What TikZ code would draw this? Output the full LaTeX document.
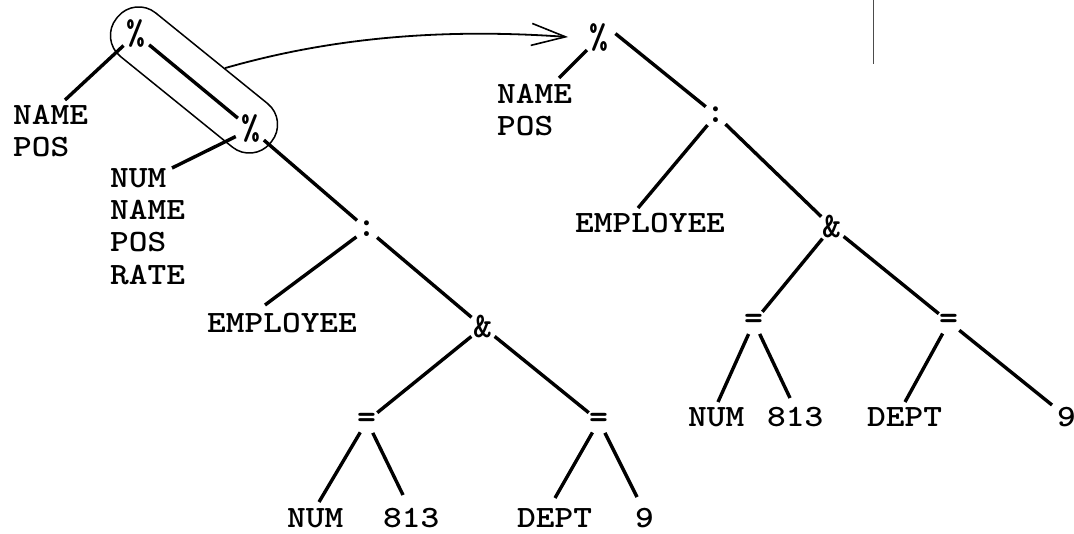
\documentclass[tikz,border=0pt]{standalone}
\usepackage{fontspec}
\usepackage{graphicx}
\usetikzlibrary{calc,arrows.meta}
\newcommand{\tw}[1]{\scalebox{1.15}[1]{#1}}
\begin{document}
\begin{tikzpicture}[x=1pt,y=1pt,
  lbl/.style={inner sep=0pt, anchor=base west, font=\fontsize{31}{33}\selectfont\ttfamily\bfseries},
  op/.style={circle, inner sep=0pt, minimum size=26pt, font=\fontsize{36}{38}\selectfont\ttfamily\bfseries},
  edge/.style={line width=3.4pt},
  grpbox/.style={draw, line width=1.5pt, rounded corners=27pt, minimum width=198pt, minimum height=56pt, inner sep=0pt, rotate=-39},
  movearrow/.style={line width=1.8pt, -{Straight Barb[length=34pt,width=22pt,line width=1.6pt]}, shorten >=14pt}]
\useasboundingbox (0,0) rectangle (1074,-534);
\fill[white] (0,0) rectangle (1074,-534);

% ---- left tree ----
\node[op] (p1) at (136,-34) {\%};
\node[op] (p2) at (251,-129) {\%};
\node[op] (c1) at (367,-229) {:};
\node[op] (a1) at (483,-327) {\&};
\node[op] (e1) at (367,-421) {=};
\node[op] (e2) at (599,-421) {=};

\node[lbl] (nmA) at (13,-125) {\tw{NAME}};
\node[lbl] (psA) at (13,-157) {\tw{POS}};
\node[lbl] (numA) at (110,-188) {\tw{NUM}};
\node[lbl] (nmA2) at (110,-220) {\tw{NAME}};
\node[lbl] (psA2) at (110,-252) {\tw{POS}};
\node[lbl] (rtA) at (110,-285) {\tw{RATE}};
\node[lbl] (empA) at (207,-333) {\tw{EMPLOYEE}};
\node[lbl] (numB) at (287,-527) {\tw{NUM}};
\node[lbl] (tB) at (383,-527) {\tw{813}};
\node[lbl] (dB) at (517,-527) {\tw{DEPT}};
\node[lbl] (nB) at (635,-527) {\tw{9}};

\draw[edge] (p1) -- ($(nmA.base west)+(52,25)$);
\draw[edge] (p1) -- (p2);
\draw[edge] (p2) -- ($(numA.base west)+(62,20)$);
\draw[edge] (p2) -- (c1);
\draw[edge] (c1) -- ($(empA.base west)+(58,28)$);
\draw[edge] (c1) -- (a1);
\draw[edge] (a1) -- (e1);
\draw[edge] (a1) -- (e2);
\draw[edge] (e1) -- ($(numB.base west)+(32,25)$);
\draw[edge] (e1) -- ($(tB.base west)+(20,32)$);
\draw[edge] (e2) -- ($(dB.base west)+(38,29)$);
\draw[edge] (e2) -- ($(nB.base west)+(2,30)$);

% ---- right tree ----
\node[op] (p3) at (599,-38) {\%};
\node[op] (c2) at (716,-115) {:};
\node[op] (a2) at (832,-227) {\&};
\node[op] (e3) at (754,-322) {=};
\node[op] (e4) at (949,-322) {=};

\node[lbl] (nmC) at (497,-104) {\tw{NAME}};
\node[lbl] (psC) at (497,-136) {\tw{POS}};
\node[lbl] (empC) at (575,-233) {\tw{EMPLOYEE}};
\node[lbl] (numD) at (688,-427) {\tw{NUM}};
\node[lbl] (tD) at (767,-427) {\tw{813}};
\node[lbl] (dD) at (867,-427) {\tw{DEPT}};
\node[lbl] (nD) at (1057,-427) {\tw{9}};

\draw[edge] (p3) -- ($(nmC.base west)+(62,26)$);
\draw[edge] (p3.15) -- (c2);
\draw[edge] (c2) -- ($(empC.base west)+(63,25)$);
\draw[edge] (c2) -- (a2);
\draw[edge] (a2) -- (e3);
\draw[edge] (a2) -- (e4);
\draw[edge] (e3) -- ($(numD.base west)+(30,25)$);
\draw[edge] (e3) -- ($(tD.base west)+(23,29)$);
\draw[edge] (e4) -- ($(dD.base west)+(38,25)$);
\draw[edge] (e4) -- ($(nD.base west)+(-5,22)$);

% ---- grouping loop and arrow ----
\node[grpbox] (grp) at (194,-80) {};
\draw[movearrow] (grp.60) .. controls (330,-38) and (440,-28) .. (p3.west);

% stray vertical mark
\draw[line width=1pt, black!70] (873,0) -- (873,-64);
\end{tikzpicture}
\end{document}
